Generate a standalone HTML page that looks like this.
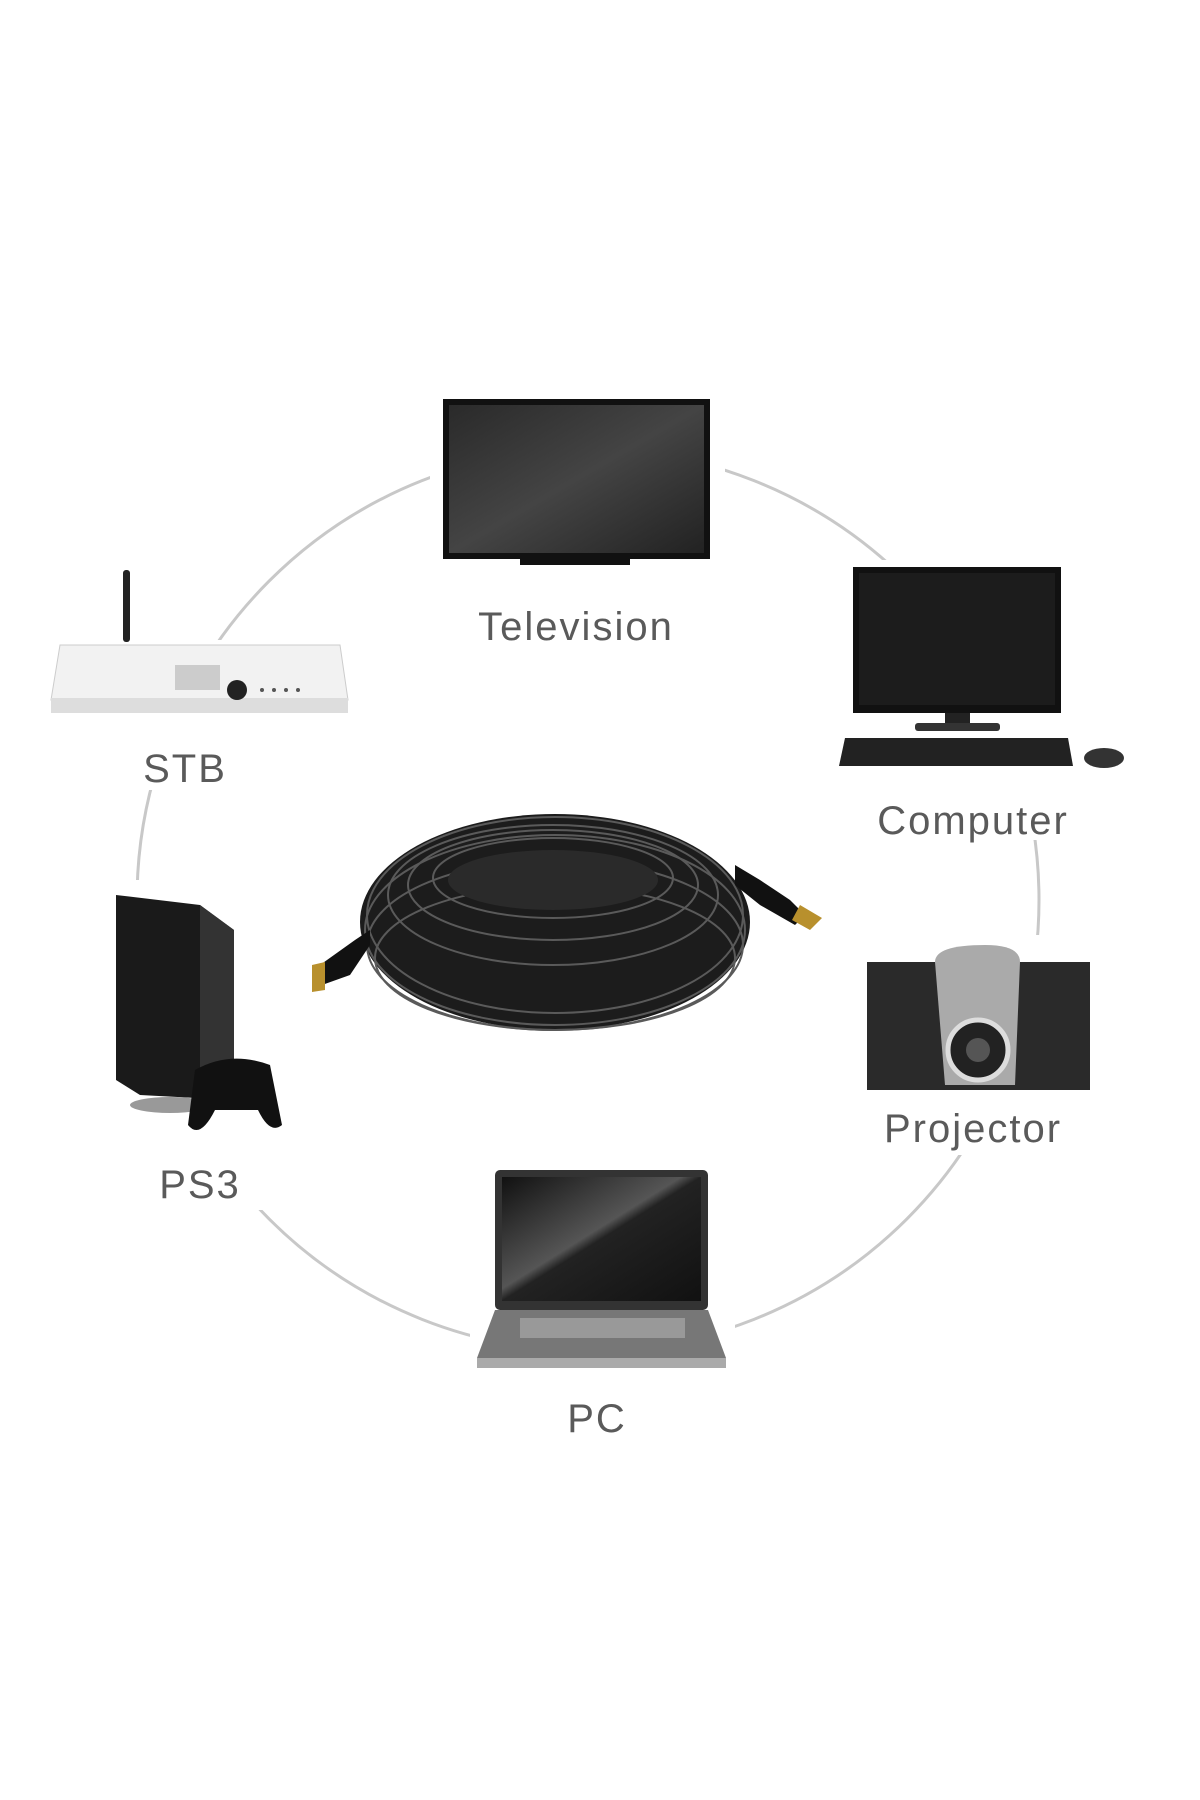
<!DOCTYPE html>
<html><head><meta charset="utf-8"><style>
html,body{margin:0;padding:0;background:#fff;}
svg{display:block}
text{font-family:"Liberation Sans",sans-serif;fill:#5a5a5a;font-size:40px;letter-spacing:2px;text-anchor:middle}
</style></head><body>
<svg width="1200" height="1800" viewBox="0 0 1200 1800">
<defs>
<linearGradient id="scr" x1="0" y1="0" x2="1" y2="1"><stop offset="0" stop-color="#2a2a2a"/><stop offset="0.5" stop-color="#444"/><stop offset="1" stop-color="#222"/></linearGradient>
<linearGradient id="lap" x1="0" y1="0" x2="1" y2="1"><stop offset="0" stop-color="#111"/><stop offset="0.45" stop-color="#555"/><stop offset="0.5" stop-color="#222"/><stop offset="1" stop-color="#111"/></linearGradient>
</defs>
<circle cx="588" cy="900" r="451" fill="none" stroke="#c8c8c8" stroke-width="3"/>
<rect x="430" y="395" width="295" height="250" fill="#fff"/>
<rect x="830" y="560" width="300" height="280" fill="#fff"/>
<rect x="40" y="640" width="320" height="150" fill="#fff"/>
<rect x="100" y="880" width="200" height="330" fill="#fff"/>
<rect x="855" y="935" width="245" height="220" fill="#fff"/>
<rect x="470" y="1160" width="265" height="280" fill="#fff"/>
<!-- TV -->
<rect x="443" y="399" width="267" height="160" fill="#111"/>
<rect x="449" y="405" width="255" height="148" fill="url(#scr)"/>
<rect x="520" y="558" width="110" height="7" fill="#111"/>
<text x="576" y="640">Television</text>
<!-- Computer -->
<rect x="853" y="567" width="208" height="146" fill="#111"/>
<rect x="859" y="573" width="196" height="132" fill="#1c1c1c"/>
<rect x="945" y="713" width="25" height="12" fill="#222"/>
<rect x="915" y="723" width="85" height="8" rx="3" fill="#333"/>
<path d="M845 738 L1068 738 L1073 766 L839 766 Z" fill="#222"/>
<ellipse cx="1104" cy="758" rx="20" ry="10" fill="#333"/>
<text x="973" y="834">Computer</text>
<!-- STB -->
<rect x="123" y="570" width="7" height="72" rx="3" fill="#222"/>
<path d="M60 645 L340 645 L348 700 L51 700 Z" fill="#f2f2f2" stroke="#ccc"/>
<rect x="51" y="698" width="297" height="15" fill="#ddd"/>
<rect x="175" y="665" width="45" height="25" fill="#ccc"/>
<circle cx="237" cy="690" r="10" fill="#222"/>
<circle cx="262" cy="690" r="2" fill="#555"/><circle cx="274" cy="690" r="2" fill="#555"/><circle cx="286" cy="690" r="2" fill="#555"/><circle cx="298" cy="690" r="2" fill="#555"/>
<text x="185" y="782">STB</text>
<!-- PS3 -->
<path d="M116 895 L200 905 L234 930 L234 1100 L140 1095 L116 1080 Z" fill="#1a1a1a"/>
<path d="M200 905 L234 930 L234 1100 L200 1100 Z" fill="#333"/>
<ellipse cx="170" cy="1105" rx="40" ry="8" fill="#999"/>
<path d="M195 1070 Q230 1050 270 1065 L282 1125 Q270 1135 258 1110 L215 1110 Q200 1140 188 1125 Z" fill="#111"/>
<text x="200" y="1198">PS3</text>
<!-- Cable -->
<ellipse cx="555" cy="922" rx="195" ry="108" fill="#1c1c1c"/>
<g fill="none" stroke="#5a5a5a" stroke-width="2">
<ellipse cx="555" cy="915" rx="188" ry="98"/>
<ellipse cx="555" cy="930" rx="190" ry="95"/>
<ellipse cx="555" cy="945" rx="188" ry="85"/>
<ellipse cx="555" cy="958" rx="180" ry="72"/>
<ellipse cx="553" cy="895" rx="165" ry="70"/>
<ellipse cx="553" cy="885" rx="145" ry="55"/>
<ellipse cx="553" cy="878" rx="120" ry="40"/>
</g>
<ellipse cx="553" cy="880" rx="105" ry="30" fill="#2a2a2a"/>
<path d="M735 865 L760 880 L790 900 L805 915 L795 925 L760 905 L735 885 Z" fill="#111"/>
<path d="M800 905 L822 918 L810 930 L792 920 Z" fill="#b8902d"/>
<path d="M370 930 L355 940 L320 965 L322 985 L350 975 L370 945 Z" fill="#111"/>
<path d="M312 965 L325 962 L325 990 L312 992 Z" fill="#b8902d"/>
<!-- Projector -->
<rect x="867" y="962" width="223" height="128" fill="#2a2a2a"/>
<path d="M935 962 Q935 945 985 945 Q1020 945 1020 962 L1015 1085 L945 1085 Z" fill="#aaa"/>
<circle cx="978" cy="1050" r="30" fill="#222" stroke="#ddd" stroke-width="5"/>
<circle cx="978" cy="1050" r="12" fill="#555"/>
<text x="973" y="1142">Projector</text>
<!-- Laptop -->
<rect x="495" y="1170" width="213" height="140" rx="5" fill="#333"/>
<rect x="502" y="1177" width="199" height="124" fill="url(#lap)"/>
<path d="M495 1310 L708 1310 L726 1358 L477 1358 Z" fill="#777"/>
<rect x="520" y="1318" width="165" height="20" fill="#999"/>
<rect x="477" y="1358" width="249" height="10" fill="#aaa"/>
<text x="597" y="1432">PC</text>
</svg>
</body></html>
